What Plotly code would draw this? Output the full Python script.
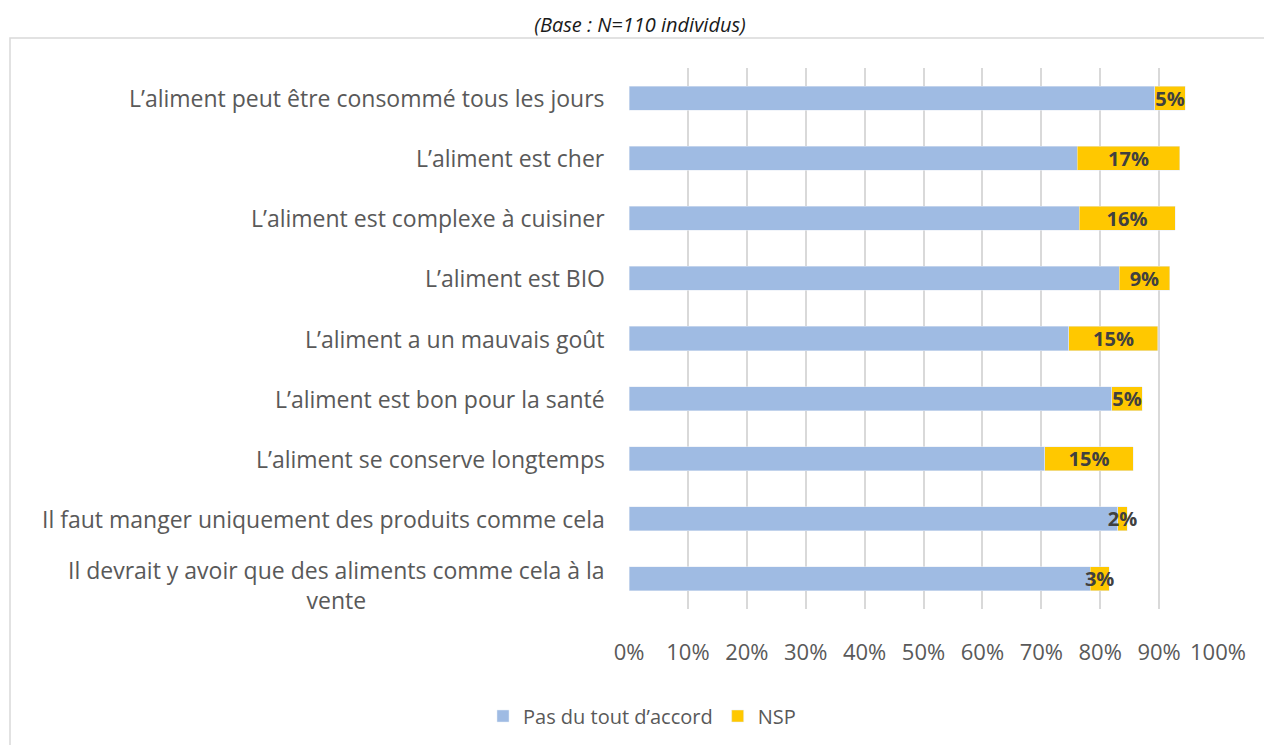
import plotly.graph_objects as go

categories = [
    "L’aliment peut être consommé tous les jours",
    "L’aliment est cher",
    "L’aliment est complexe à cuisiner",
    "L’aliment est BIO",
    "L’aliment a un mauvais goût",
    "L’aliment est bon pour la santé",
    "L’aliment se conserve longtemps",
    "Il faut manger uniquement des produits comme cela",
    "Il devrait y avoir que des aliments comme cela à la<br>vente",
]
pas_du_tout = [89.3, 76.1, 76.4, 83.2, 74.7, 82.0, 70.6, 83.0, 78.3]
nsp = [5.1, 17.4, 16.3, 8.6, 15.1, 5.1, 15.0, 1.6, 3.2]
tick_vals = list(range(0, 101, 10))
tick_text = [f"{v}%" for v in tick_vals]

FONT = "Open Sans"
GREY = "#595959"

# page body has an 8px margin; figure is sized to fit the window
W, H = 1264, 737
L, R, T, B = 621, 54, 60, 136
PW, PH = W - L - R, H - T - B

fig = go.Figure()
fig.add_trace(go.Bar(
    y=categories, x=pas_du_tout, orientation="h", name="Pas du tout d’accord",
    marker=dict(color="#9fbbe3"), hoverinfo="x+y",
))
fig.add_trace(go.Bar(
    y=categories, x=nsp, orientation="h", name="NSP",
    marker=dict(color="#ffc800"),
    texttemplate="%{x:.0f}%", textposition="inside", insidetextanchor="middle",
    textangle=0, constraintext="none",
    textfont=dict(family=FONT, size=20, color="#404040", weight="bold"),
))

for c in categories:
    fig.add_annotation(
        x=0, xref="paper", y=c, yref="y", text=c, showarrow=False,
        xanchor="right", yanchor="middle", xshift=-22,
        yshift=-6 if "<br>" in c else 0, align="center",
        font=dict(family=FONT, size=23, color=GREY),
    )

fig.add_shape(type="rect", xref="paper", yref="paper",
              x0=(2 - L) / PW, x1=(1263 - L) / PW,
              y0=(T + PH - 745) / PH, y1=(T + PH - 30) / PH,
              line=dict(color="#d9d9d9", width=1.5), fillcolor="rgba(0,0,0,0)",
              layer="below")

fig.update_layout(
    width=W, height=H,
    margin=dict(l=L, r=R, t=T, b=B),
    barmode="stack", bargap=0.6,
    paper_bgcolor="white", plot_bgcolor="white",
    font=dict(family=FONT, color=GREY),
    title=dict(text="<i>(Base : N=110 individus)</i>", x=632 / W, xanchor="center",
               y=1 - 17 / H, yanchor="middle", yref="container",
               font=dict(family=FONT, size=20, color="#1a1a1a")),
    xaxis=dict(range=[0, 100], tickvals=tick_vals, ticktext=tick_text,
               showgrid=True, gridcolor="#d9d9d9", gridwidth=1.5,
               zeroline=False, showline=False, ticks="",
               ticklabelstandoff=28,
               tickfont=dict(family=FONT, size=22, color=GREY)),
    yaxis=dict(autorange="reversed", showticklabels=False, showgrid=False,
               zeroline=False, showline=False, ticks=""),
    legend=dict(orientation="h", xref="container", yref="container",
                x=634 / W, xanchor="center", y=1 - 708 / H, yanchor="middle",
                font=dict(family=FONT, size=20, color=GREY),
                itemclick=False, traceorder="normal"),
    showlegend=True,
)

fig.write_html("out.html")
